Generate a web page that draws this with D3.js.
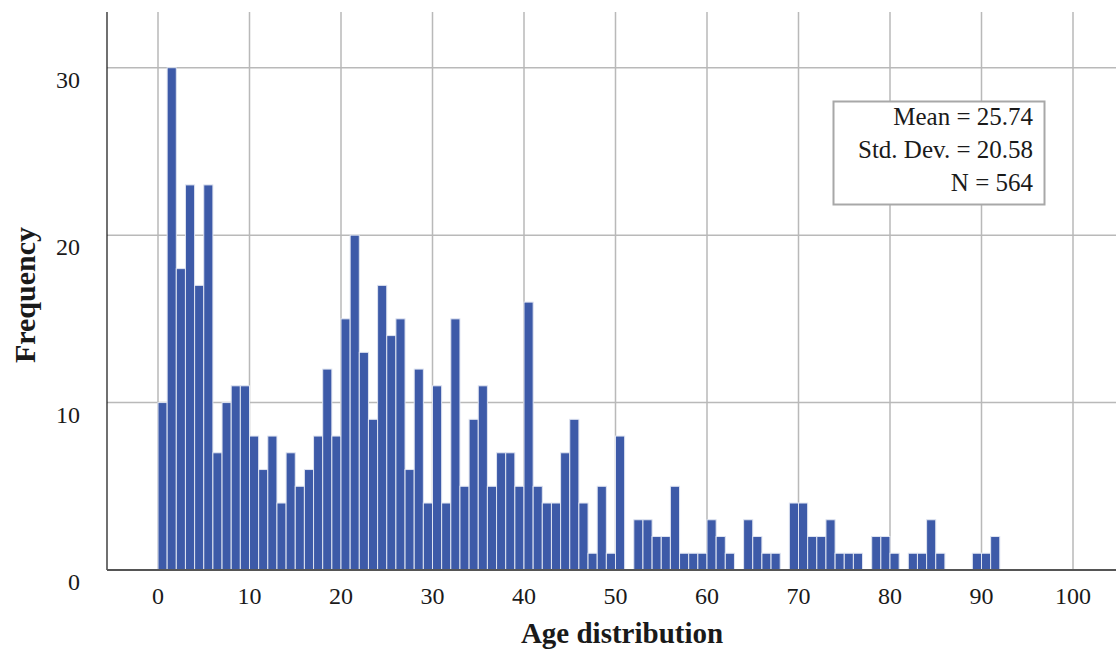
<!DOCTYPE html>
<html>
<head>
<meta charset="utf-8">
<script src="https://cdn.jsdelivr.net/npm/d3@7"></script>
<style>
  body { margin: 0; background: #fff; }
  svg text { font-family: "Liberation Serif", "DejaVu Serif", serif; fill: #1a1a1a; }
</style>
</head>
<body>
<div id="chart"></div>
<script>
// bin start (age in years), one bin per year
const ageBins = [
   0,  1,  2,  3,  4,  5,  6,  7,  8,  9,
  10, 11, 12, 13, 14, 15, 16, 17, 18, 19,
  20, 21, 22, 23, 24, 25, 26, 27, 28, 29,
  30, 31, 32, 33, 34, 35, 36, 37, 38, 39,
  40, 41, 42, 43, 44, 45, 46, 47, 48, 49,
  50, 51, 52, 53, 54, 55, 56, 57, 58, 59,
  60, 61, 62, 63, 64, 65, 66, 67, 68, 69,
  70, 71, 72, 73, 74, 75, 76, 77, 78, 79,
  80, 81, 82, 83, 84, 85, 86, 87, 88, 89,
  90, 91
];
const frequencies = [
  10, 30, 18, 23, 17, 23,  7, 10, 11, 11,
   8,  6,  8,  4,  7,  5,  6,  8, 12,  8,
  15, 20, 13,  9, 17, 14, 15,  6, 12,  4,
  11,  4, 15,  5,  9, 11,  5,  7,  7,  5,
  16,  5,  4,  4,  7,  9,  4,  1,  5,  1,
   8,  0,  3,  3,  2,  2,  5,  1,  1,  1,
   3,  2,  1,  0,  3,  2,  1,  1,  0,  4,
   4,  2,  2,  3,  1,  1,  1,  0,  2,  2,
   1,  0,  1,  1,  3,  1,  0,  0,  0,  1,
   1,  2
];
const xTicks = [0, 10, 20, 30, 40, 50, 60, 70, 80, 90, 100];
const yTicks = [0, 10, 20, 30];
const statLines = ['Mean = 25.74', 'Std. Dev. = 20.58', 'N = 564'];
const xTitle = 'Age distribution';
const yTitle = 'Frequency';

const width = 1116;
const height = 650;
const plot = { left: 107, right: 1116, top: 12, bottom: 570 };
const barColor = '#3d5aa8';
const gridColor = '#b9b9b9';

const x = d3.scaleLinear().domain([0, 100]).range([158, 1073]);
const y = d3.scaleLinear().domain([0, 30]).range([plot.bottom, 67.7]);

const bins = ageBins.map((a, i) => ({ x0: a, x1: a + 1, count: frequencies[i] }));

const svg = d3.select('#chart').append('svg')
  .attr('width', width)
  .attr('height', height);

// grid
svg.append('g')
  .selectAll('line')
  .data(yTicks.filter(t => t > 0))
  .enter().append('line')
  .attr('x1', plot.left)
  .attr('x2', plot.right)
  .attr('y1', d => y(d))
  .attr('y2', d => y(d))
  .attr('stroke', gridColor)
  .attr('stroke-width', 1.5);

svg.append('g')
  .selectAll('line')
  .data(xTicks)
  .enter().append('line')
  .attr('x1', d => x(d))
  .attr('x2', d => x(d))
  .attr('y1', plot.top)
  .attr('y2', plot.bottom)
  .attr('stroke', gridColor)
  .attr('stroke-width', 1.5);

// bars
svg.append('g')
  .selectAll('rect')
  .data(bins.filter(b => b.count > 0))
  .enter().append('rect')
  .attr('x', d => x(d.x0))
  .attr('width', d => x(d.x1) - x(d.x0))
  .attr('y', d => y(d.count))
  .attr('height', d => y(0) - y(d.count))
  .attr('fill', barColor)
  .attr('stroke', '#dfe4f1')
  .attr('stroke-width', 1);

// axes lines
svg.append('line')
  .attr('x1', plot.left).attr('x2', plot.left)
  .attr('y1', plot.top).attr('y2', plot.bottom)
  .attr('stroke', '#111').attr('stroke-width', 1.2);

svg.append('line')
  .attr('x1', plot.left).attr('x2', plot.right)
  .attr('y1', plot.bottom).attr('y2', plot.bottom)
  .attr('stroke', '#555').attr('stroke-width', 2);

// tick labels
svg.append('g')
  .selectAll('text')
  .data(xTicks)
  .enter().append('text')
  .attr('x', d => x(d))
  .attr('y', 604)
  .attr('text-anchor', 'middle')
  .style('font-size', '24px')
  .text(d => d);

svg.append('g')
  .selectAll('text')
  .data(yTicks)
  .enter().append('text')
  .attr('x', 80)
  .attr('y', d => y(d) + 20)
  .attr('text-anchor', 'end')
  .style('font-size', '24px')
  .text(d => d);

// titles
svg.append('text')
  .attr('x', 622)
  .attr('y', 643)
  .attr('text-anchor', 'middle')
  .style('font-size', '29px')
  .style('font-weight', 'bold')
  .text(xTitle);

svg.append('text')
  .attr('transform', 'translate(35, 295) rotate(-90)')
  .attr('text-anchor', 'middle')
  .style('font-size', '30px')
  .style('font-weight', 'bold')
  .text(yTitle);

// stats box
const box = svg.append('g');
box.append('rect')
  .attr('x', 833.5)
  .attr('y', 101.5)
  .attr('width', 211)
  .attr('height', 103)
  .attr('fill', '#fff')
  .attr('stroke', '#a8a8a8')
  .attr('stroke-width', 2);

box.selectAll('text.stat')
  .data(statLines)
  .enter().append('text')
  .attr('class', 'stat')
  .attr('x', 1033)
  .attr('y', (d, i) => 125 + i * 33)
  .attr('text-anchor', 'end')
  .style('font-size', '25px')
  .text(d => d);
</script>
</body>
</html>
